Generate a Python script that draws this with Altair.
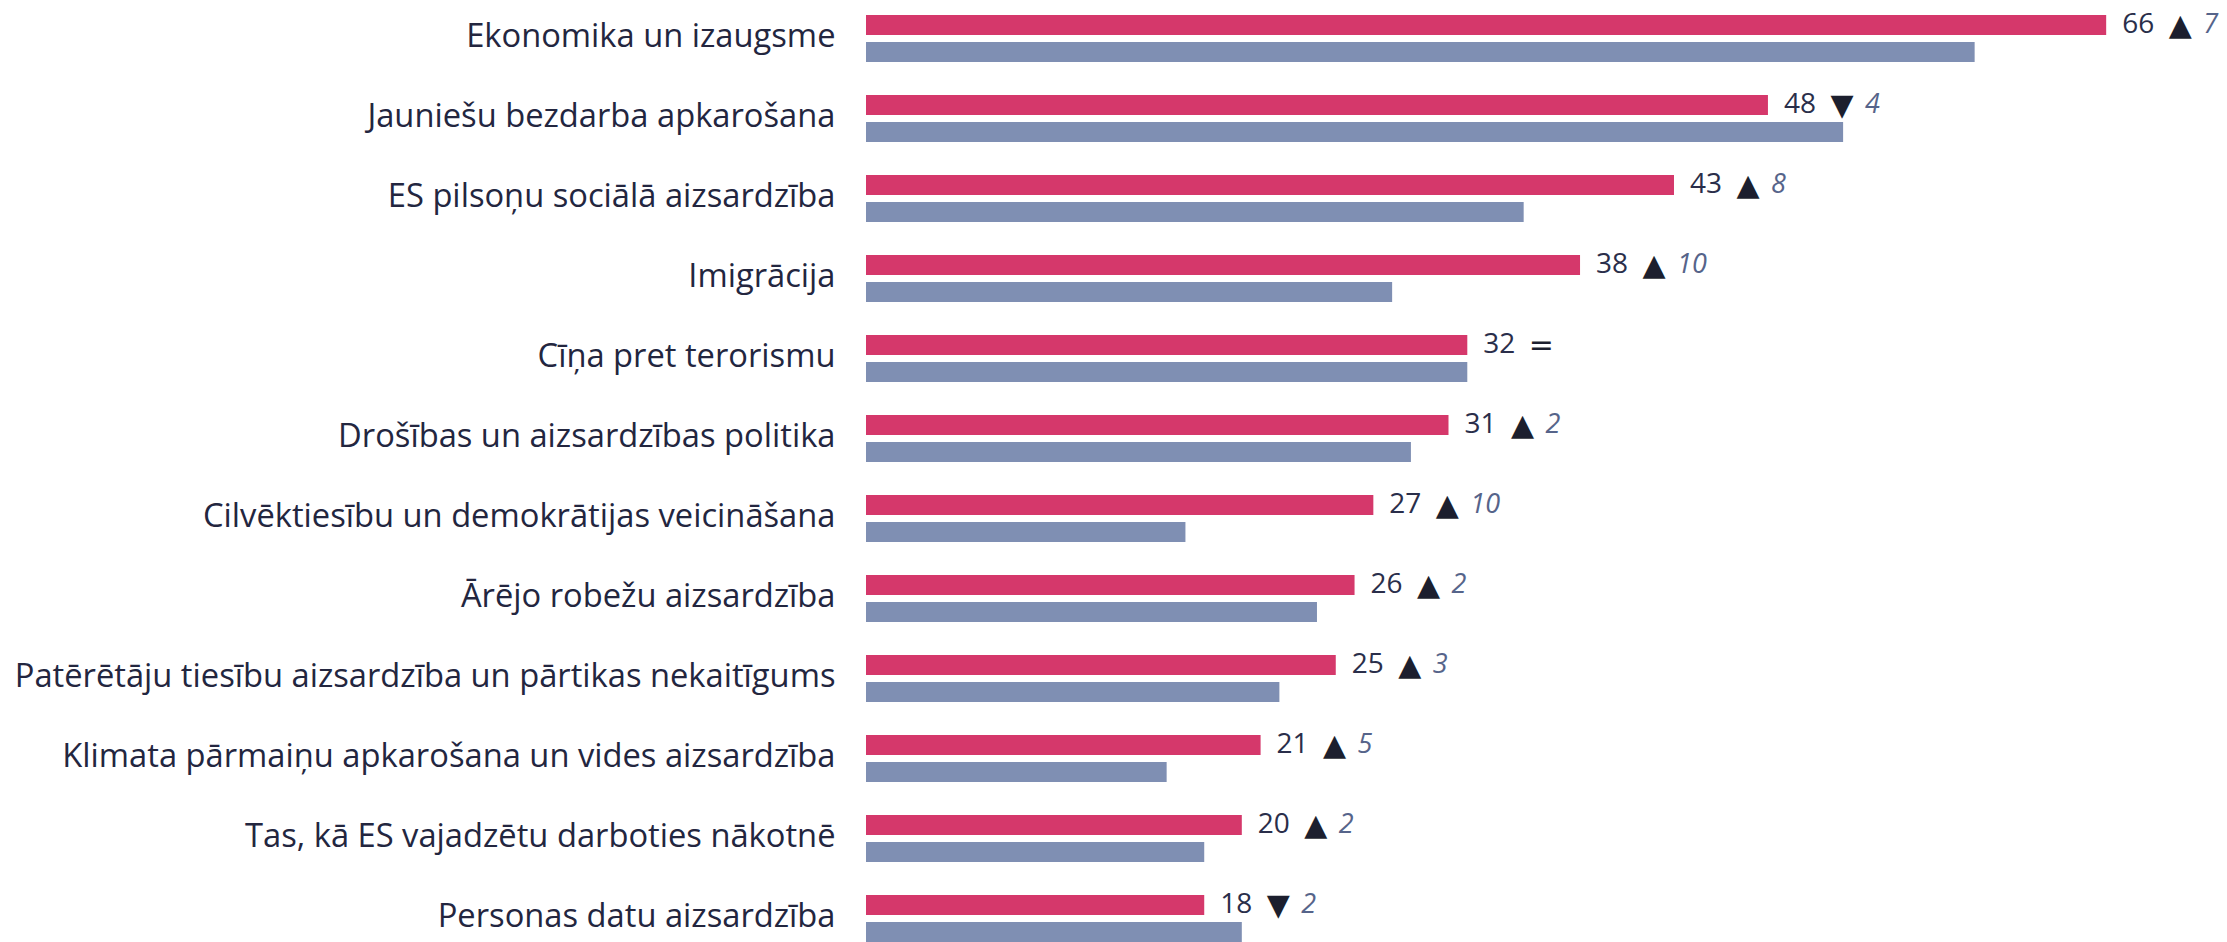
import altair as alt
import pandas as pd

categories = [
    "Ekonomika un izaugsme",
    "Jauniešu bezdarba apkarošana",
    "ES pilsoņu sociālā aizsardzība",
    "Imigrācija",
    "Cīņa pret terorismu",
    "Drošības un aizsardzības politika",
    "Cilvēktiesību un demokrātijas veicināšana",
    "Ārējo robežu aizsardzība",
    "Patērētāju tiesību aizsardzība un pārtikas nekaitīgums",
    "Klimata pārmaiņu apkarošana un vides aizsardzība",
    "Tas, kā ES vajadzētu darboties nākotnē",
    "Personas datu aizsardzība",
]
current = [66, 48, 43, 38, 32, 31, 27, 26, 25, 21, 20, 18]
previous = [59, 52, 35, 28, 32, 29, 17, 24, 22, 16, 18, 20]
change = [7, 4, 8, 10, 0, 2, 10, 2, 3, 5, 2, 2]
direction = ["up", "down", "up", "up", "eq", "up", "up", "up", "up", "up", "up", "down"]

series_names = ["cur", "prev"]
colors = ["#d5386b", "#7f8fb3"]
symbols = {"up": "▲", "down": "▼", "eq": "="}

bars = pd.DataFrame(
    [{"cat": c, "series": "cur", "value": v} for c, v in zip(categories, current)]
    + [{"cat": c, "series": "prev", "value": v} for c, v in zip(categories, previous)]
)
labels = pd.DataFrame({
    "cat": categories,
    "series": ["cur"] * len(categories),
    "value": current,
    "symbol": [symbols[d] for d in direction],
    "change": [str(c) if c else "" for c in change],
})

y_enc = alt.Y(
    "cat:N",
    sort=categories,
    scale=alt.Scale(paddingInner=0.4125, paddingOuter=0.09375, align=1),
    axis=alt.Axis(
        title=None, ticks=False, domain=False, grid=False,
        labelFont="Open Sans", labelFontSize=32.7, labelColor="#23263f",
        labelPadding=31, labelLimit=1200, labelOffset=-2,
    ),
)
yoff = alt.YOffset(
    "series:N",
    sort=series_names,
    scale=alt.Scale(domain=series_names, paddingInner=0.259, paddingOuter=0),
)
x_enc = alt.X("value:Q", scale=alt.Scale(domain=[0, 72.43], nice=False), axis=None)

bar_layer = alt.Chart(bars).mark_bar(cornerRadius=0).encode(
    y=y_enc,
    yOffset=yoff,
    x=x_enc,
    color=alt.Color("series:N", scale=alt.Scale(domain=series_names, range=colors), legend=None),
)

base_txt = alt.Chart(labels).encode(y=y_enc, yOffset=yoff, x=x_enc)

value_txt = base_txt.mark_text(
    align="left", baseline="middle", dx=16, font="Open Sans", fontSize=28, color="#2a2e4a"
).encode(text="value:Q")

sym_txt = base_txt.mark_text(
    align="center", baseline="middle", dx=74, dy=1, font="DejaVu Sans", fontSize=30, color="#1c1f2e"
).encode(text="symbol:N")

change_txt = base_txt.mark_text(
    align="left", baseline="middle", dx=97, font="Open Sans", fontSize=27,
    fontStyle="italic", color="#56648a"
).encode(text="change:N")

chart = alt.layer(bar_layer, value_txt, sym_txt, change_txt).properties(
    width=1361,
    height=942,
    autosize=alt.AutoSizeParams(type="none"),
    padding={"left": 866, "top": 0, "right": 0, "bottom": 0},
    background="white",
).configure_view(stroke=None)

chart.save("out.html", embed_options={"renderer": "svg", "actions": False})
